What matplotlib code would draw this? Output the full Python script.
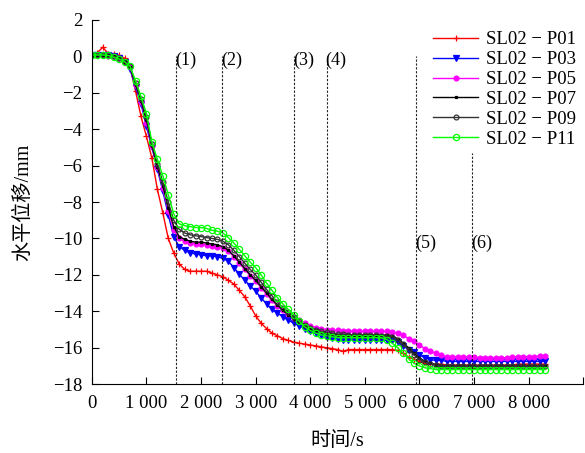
import numpy as np
import matplotlib
matplotlib.use("Agg")
import matplotlib.pyplot as plt

plt.rcParams['font.family'] = ['Liberation Serif', 'Noto Sans CJK SC', 'DejaVu Sans']
plt.rcParams['mathtext.fontset'] = 'stix'

# time axis, one reading every 100 s
t = np.arange(0, 8301, 100)

p01 = [0.0, 0.2, 0.5, 0.15, 0.15, 0.05, -0.1, -0.6, -1.9, -3.3,
       -4.4, -5.6, -7.3, -8.6, -10.0, -10.8, -11.4, -11.7, -11.8, -11.8,
       -11.8, -11.8, -11.9, -12.0, -12.1, -12.3, -12.5, -12.85, -13.2, -13.7,
       -14.25, -14.65, -14.95, -15.2, -15.35, -15.5, -15.6, -15.7, -15.75, -15.8,
       -15.85, -15.9, -15.95, -16.0, -16.05, -16.1, -16.2, -16.1, -16.1, -16.1,
       -16.1, -16.1, -16.1, -16.1, -16.1, -16.1, -16.15, -16.3, -16.5, -16.65,
       -16.75, -16.85, -16.9, -16.9, -16.9, -16.95, -16.95, -16.95, -16.95, -16.95,
       -16.95, -16.95, -16.95, -16.95, -16.95, -16.95, -16.95, -16.95, -16.9, -16.9,
       -16.9, -16.9, -16.9, -16.9]

p03 = [0.05, 0.05, 0.05, 0.05, 0.0, -0.1, -0.3, -0.7, -1.7, -2.6,
       -3.85, -5.0, -6.2, -7.4, -8.7, -9.9, -10.45, -10.65, -10.8, -10.85,
       -10.9, -10.95, -10.95, -11.0, -11.1, -11.25, -11.6, -11.95, -12.3, -12.6,
       -12.9, -13.25, -13.6, -13.9, -14.1, -14.3, -14.5, -14.65, -14.8, -14.95,
       -15.1, -15.2, -15.3, -15.4, -15.45, -15.5, -15.55, -15.55, -15.6, -15.6,
       -15.6, -15.6, -15.6, -15.6, -15.6, -15.6, -15.7, -15.9, -16.1, -16.25,
       -16.4, -16.55, -16.65, -16.7, -16.7, -16.75, -16.75, -16.75, -16.75, -16.75,
       -16.75, -16.75, -16.75, -16.75, -16.75, -16.75, -16.75, -16.75, -16.75, -16.75,
       -16.75, -16.75, -16.75, -16.75]

p05 = [0.05, 0.05, 0.05, 0.0, 0.0, -0.1, -0.3, -0.6, -1.6, -2.5,
       -3.65, -4.95, -6.1, -7.25, -8.5, -9.55, -10.0, -10.15, -10.25, -10.3,
       -10.3, -10.35, -10.4, -10.45, -10.5, -10.7, -11.0, -11.35, -11.7, -12.05,
       -12.35, -12.7, -13.05, -13.4, -13.7, -13.95, -14.15, -14.35, -14.5, -14.65,
       -14.8, -14.9, -14.95, -15.0, -15.05, -15.05, -15.1, -15.1, -15.1, -15.1,
       -15.1, -15.1, -15.1, -15.1, -15.1, -15.15, -15.2, -15.3, -15.5, -15.65,
       -15.85, -16.05, -16.2, -16.3, -16.4, -16.5, -16.5, -16.5, -16.5, -16.5,
       -16.5, -16.55, -16.55, -16.55, -16.55, -16.55, -16.55, -16.5, -16.5, -16.5,
       -16.5, -16.5, -16.45, -16.45]

p07 = [0.05, 0.05, 0.05, 0.05, 0.0, -0.1, -0.3, -0.6, -1.55, -2.45,
       -3.5, -4.9, -6.05, -7.1, -8.3, -9.35, -9.9, -10.05, -10.15, -10.2,
       -10.2, -10.25, -10.3, -10.35, -10.45, -10.65, -10.95, -11.3, -11.65, -12.0,
       -12.3, -12.65, -13.0, -13.35, -13.65, -13.95, -14.2, -14.4, -14.6, -14.8,
       -14.95, -15.05, -15.15, -15.2, -15.25, -15.3, -15.3, -15.3, -15.3, -15.3,
       -15.3, -15.3, -15.3, -15.3, -15.3, -15.35, -15.5, -15.75, -16.0, -16.3,
       -16.55, -16.75, -16.85, -16.95, -17.0, -17.0, -17.0, -17.0, -17.0, -17.0,
       -17.0, -17.0, -17.0, -17.0, -17.0, -17.0, -17.0, -17.0, -17.0, -17.0,
       -17.0, -17.0, -17.0, -17.0]

p09 = [0.05, 0.05, 0.05, 0.05, 0.0, -0.1, -0.3, -0.55, -1.45, -2.35,
       -3.35, -4.8, -5.9, -6.9, -8.0, -9.0, -9.5, -9.7, -9.8, -9.85,
       -9.9, -9.95, -10.0, -10.05, -10.15, -10.35, -10.65, -11.0, -11.35, -11.7,
       -12.0, -12.4, -12.8, -13.15, -13.5, -13.8, -14.05, -14.3, -14.55, -14.75,
       -14.9, -15.0, -15.1, -15.15, -15.2, -15.25, -15.25, -15.3, -15.3, -15.3,
       -15.3, -15.3, -15.3, -15.35, -15.35, -15.4, -15.55, -15.8, -16.1, -16.4,
       -16.65, -16.8, -16.9, -16.95, -17.0, -17.0, -17.0, -17.0, -17.0, -17.0,
       -17.0, -17.0, -17.0, -17.0, -17.0, -17.0, -17.0, -17.0, -17.0, -17.0,
       -17.0, -17.0, -17.0, -17.0]

p11 = [0.08, 0.08, 0.08, 0.05, -0.05, -0.15, -0.3, -0.55, -1.35, -2.2,
       -3.15, -4.7, -5.65, -6.55, -7.6, -8.65, -9.2, -9.3, -9.35, -9.4,
       -9.4, -9.45, -9.55, -9.6, -9.7, -9.95, -10.25, -10.6, -10.95, -11.3,
       -11.6, -12.0, -12.45, -12.85, -13.25, -13.6, -13.9, -14.2, -14.55, -14.85,
       -15.05, -15.2, -15.3, -15.35, -15.4, -15.45, -15.45, -15.45, -15.45, -15.45,
       -15.45, -15.45, -15.45, -15.45, -15.55, -15.75, -16.0, -16.3, -16.6, -16.85,
       -17.0, -17.1, -17.15, -17.2, -17.2, -17.2, -17.2, -17.2, -17.2, -17.2,
       -17.2, -17.2, -17.2, -17.2, -17.2, -17.2, -17.2, -17.2, -17.2, -17.2,
       -17.2, -17.2, -17.2, -17.2]

series = [p01, p03, p05, p07, p09, p11]
names = ['SL02 \u2212 P01', 'SL02 \u2212 P03', 'SL02 \u2212 P05',
         'SL02 \u2212 P07', 'SL02 \u2212 P09', 'SL02 \u2212 P11']
colors = ['#ff0000', '#0000ff', '#ff00ff', '#000000', '#333333', '#00ff00']
markers = ['+', 'v', 'o', 's', 'o', 'o']
msizes = [5, 4, 3.5, 2, 3.5, 4.5]
faces = ['#ff0000', '#0000ff', '#ff00ff', '#000000', 'none', 'none']

# stage lines (1)..(6): time, top of line, label height
stage_t = [1540, 2390, 3700, 4300, 5940, 6960]
stage_top = [0, 0, 0, 0, 0, -5.3]
stage_lab_y = [-0.2, -0.2, -0.2, -0.2, -10.25, -10.25]
stage_labels = ['(1)', '(2)', '(3)', '(4)', '(5)', '(6)']

xticks = [0, 1000, 2000, 3000, 4000, 5000, 6000, 7000, 8000, 9000]
xtick_labels = ['0', '1 000', '2 000', '3 000', '4 000', '5 000', '6 000', '7 000', '8 000', '']

fig = plt.figure(figsize=(5.85, 4.53), dpi=100)
ax = fig.add_axes([0.157, 0.152, 0.84, 0.804])

for y, lab, c, m, ms, fc in zip(series, names, colors, markers, msizes, faces):
    ax.plot(t, y, color=c, lw=1.0, marker=m, ms=ms, mfc=fc, mec=c, mew=0.9, label=lab)

for x0, top, ly, lab in zip(stage_t, stage_top, stage_lab_y, stage_labels):
    ax.vlines(x0, -18, top, colors='#222222', linestyles=(0, (2, 1.5)), lw=0.8)
    ax.text(x0 - 20, ly, lab, fontsize=13, ha='left', va='center')

ax.set_xlim(0, 9000)
ax.set_ylim(-18, 2)
ax.set_xticks(xticks)
ax.set_xticklabels(xtick_labels)
ax.set_yticks(np.arange(-18, 3, 2))
ax.tick_params(direction='in', length=5, width=0.8, labelsize=13.5)
ax.tick_params(axis='x', pad=8)
ax.tick_params(axis='y', pad=7)
ax.spines['top'].set_visible(False)
ax.spines['right'].set_visible(False)

ax.set_xlabel('时间/s', fontsize=14.5, labelpad=14)
ax.set_ylabel('水平位移/mm', fontsize=14.5, labelpad=14)

ax.legend(loc='upper right', bbox_to_anchor=(1.0, 0.99), frameon=False,
          fontsize=13.5, handlelength=2.4, handletextpad=0.4, labelspacing=0.15,
          borderaxespad=0.0)

fig.savefig('out.png', dpi=100)
